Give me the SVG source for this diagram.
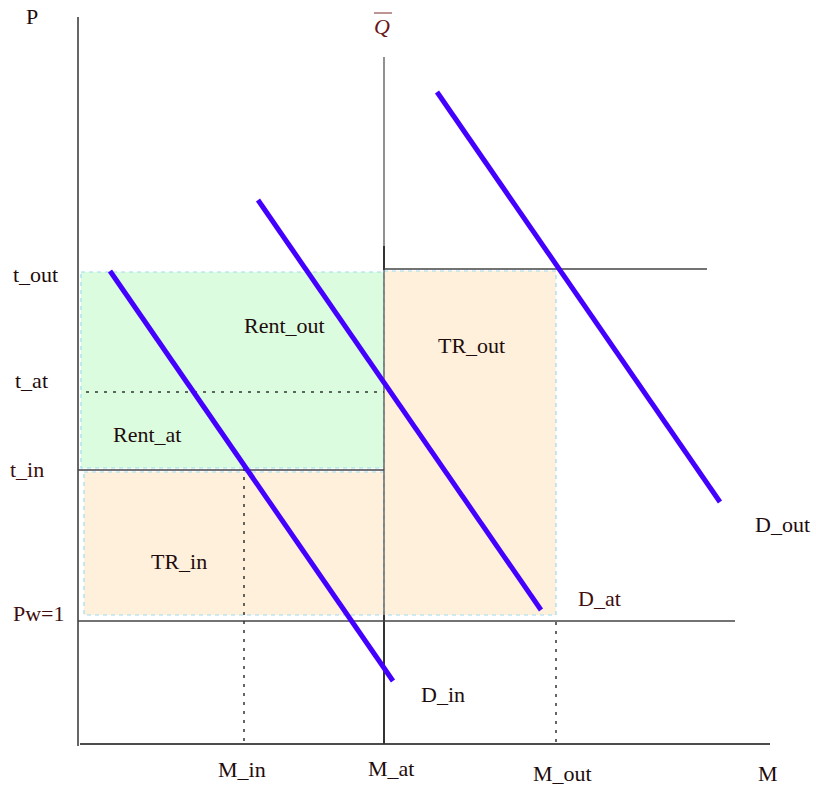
<svg xmlns="http://www.w3.org/2000/svg" width="816" height="789" viewBox="0 0 816 789">
<style>
text{font-family:"Liberation Serif","Times New Roman",serif;font-size:22px;fill:#1e0c0c}
.red{fill:#3e0e0e}
.area{stroke:#9ddcf2;stroke-width:1.2;stroke-dasharray:4,4}
.green{fill:#dcfcdf}
.orange{fill:#fef0db}
.ax{stroke:#666;stroke-width:2;fill:none}
.ln{stroke:#444;stroke-width:1.5;fill:none}
.dot{stroke:#333;stroke-width:1.5;stroke-dasharray:3,6;fill:none}
.dem{stroke:#4400ff;stroke-width:5;fill:none}
</style>
<rect width="816" height="789" fill="#fff"/>
<g id="areas">
<g id="rent"><rect class="area green" x="81" y="272" width="303" height="196"/><text x="244" y="333">Rent_out</text><text x="113" y="442">Rent_at</text></g>
<g id="tr_in"><rect class="area orange" x="84" y="472" width="300" height="143"/><text x="151" y="569">TR_in</text></g>
<g id="tr_out"><rect class="area orange" x="384" y="271" width="172" height="344"/><text x="438" y="353">TR_out</text></g>
</g>
<g id="connectors">
<line class="ax" x1="78" y1="17" x2="78" y2="746"/>
<line x1="80" y1="744" x2="770" y2="744" stroke="#111" stroke-width="1.5"/>
<line x1="384" y1="57" x2="384" y2="744" stroke="#555" stroke-width="1.3"/>
<line x1="384" y1="246" x2="384" y2="270" stroke="#333" stroke-width="2"/>
<line x1="384" y1="615" x2="384" y2="744" stroke="#333" stroke-width="2"/>
<line class="ln" x1="384" y1="269" x2="707" y2="269"/>
<line class="ln" x1="78" y1="470" x2="384" y2="470"/>
<line class="ln" x1="78" y1="621" x2="735" y2="621"/>
<line class="dot" x1="86" y1="392" x2="384" y2="392"/>
<line class="dot" x1="244" y1="468" x2="244" y2="744"/>
<line class="dot" x1="556" y1="622" x2="556" y2="744"/>
<line class="dem" x1="110" y1="271" x2="393" y2="681"/>
<line class="dem" x1="258" y1="200" x2="541" y2="610"/>
<line class="dem" x1="437" y1="92" x2="720" y2="502"/>
</g>
<g id="labels">
<text x="26" y="24">P</text>
<g id="qbar"><line x1="374" y1="13" x2="392" y2="13" stroke="#7a2a2a" stroke-width="1"/><text x="374" y="34" font-style="italic" style="fill:#6b1515">Q</text></g>
<text x="13" y="282">t_out</text>
<text x="15" y="388">t_at</text>
<text class="red" x="10" y="477">t_in</text>
<text class="red" x="13" y="621">Pw=1</text>
<text class="red" x="578" y="606">D_at</text>
<text x="421" y="702">D_in</text>
<text x="755" y="532">D_out</text>
<text x="218" y="777">M_in</text>
<text x="368" y="776">M_at</text>
<text x="533" y="781">M_out</text>
<text x="758" y="781">M</text>
</g>
</svg>
